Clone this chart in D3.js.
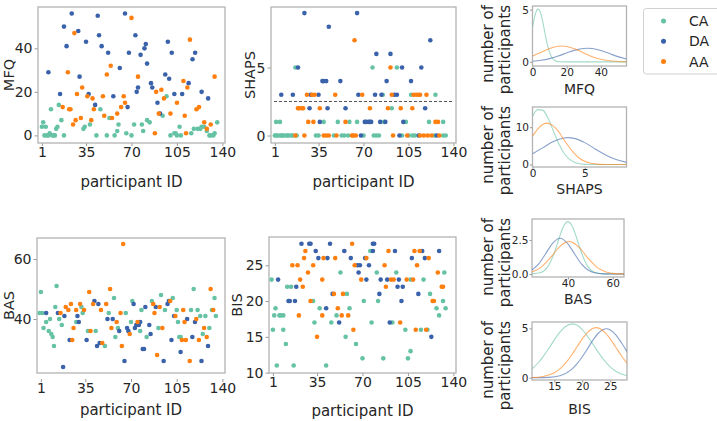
<!DOCTYPE html>
<html><head><meta charset="utf-8">
<script src="https://cdn.jsdelivr.net/npm/d3@7"></script>
<style>
body{margin:0;background:#fff;}
svg{display:block;font-family:"DejaVu Sans",sans-serif;}
</style></head><body>
<svg id="c" width="717" height="421"></svg>
<script>
// ---------------- DATA ----------------
const groups = ["CA", "DA", "AA"];
const groupColors = ["#66c2a5", "#3a62aa", "#ff7f0e"];
const idTicks = [1, 35, 70, 105, 140];
const idTickLabels = ["1", "35", "70", "105", "140"];

// scatter data: [participant ID, score]
const mfqCA = [[1,4],[2,6],[3,0],[4,4],[5,0],[6,0],[7,1],[8,12],[9,0],[10,0],[11,0],[12,3],[13,4],[14,14],[16,7],[18,0],[33,3],[34,4],[38,5],[43,0],[46,12],[51,0],[53,8],[57,0],[59,2],[60,5],[66,1],[70,0],[72,5],[78,5],[79,2],[82,7],[84,6],[94,9],[97,18],[100,0],[103,1],[104,1],[105,0],[107,4],[108,0],[116,1],[118,3],[121,3],[123,3],[124,4],[126,4],[128,2],[130,0],[131,0],[133,0],[134,1],[136,6]];
const mfqDA = [[6,29],[15,19],[18,50],[20,41],[24,56],[29,48],[30,27],[35,43],[37,19],[42,14],[44,55],[45,46],[47,41],[52,38],[56,18],[61,31],[65,56],[67,13],[68,38],[73,46],[74,20],[75,22],[77,37],[80,40],[81,42],[82,33],[85,24],[86,22],[90,15],[92,10],[96,28],[98,43],[99,26],[101,38],[103,19],[109,19],[114,24],[117,35],[119,38],[124,20],[129,17]];
const mfqAA = [[17,13],[21,29],[22,12],[23,12],[25,5],[26,47],[27,7],[28,19],[31,8],[32,22],[36,18],[39,7],[40,17],[41,12],[48,18],[49,9],[51,28],[54,32],[55,8],[59,10],[62,13],[64,18],[65,15],[70,54],[75,27],[88,1],[89,20],[91,10],[93,21],[95,17],[100,10],[105,15],[110,25],[111,9],[112,1],[113,22],[115,44],[120,12],[122,13],[126,6],[128,3],[131,5],[134,27]];

const shapsCA = [[1,0],[2,0],[3,0],[5,0],[6,0],[7,0],[8,0],[10,0],[11,0],[12,0],[14,0],[15,0],[2,1],[5,1],[17,5],[18,0],[33,0],[35,0],[39,1],[47,0],[50,1],[53,0],[55,0],[58,0],[59,1],[65,1],[70,0],[77,5],[78,0],[80,0],[82,0],[85,3],[86,1],[92,2],[96,5],[100,0],[103,1],[105,0],[107,3],[108,0],[110,0],[121,1],[125,0],[126,3],[132,1],[132,0],[134,0]];
const shapsDA = [[6,3],[15,3],[19,5],[24,9],[28,2],[29,3],[35,3],[36,1],[38,4],[39,4],[41,4],[42,2],[43,8],[52,4],[56,2],[65,9],[66,3],[68,0],[71,1],[72,1],[74,1],[75,1],[76,1],[79,3],[80,6],[83,1],[84,3],[87,1],[88,4],[91,6],[94,3],[96,3],[98,0],[100,5],[101,1],[107,4],[113,0],[115,5],[118,2],[122,7],[127,0]];
const shapsAA = [[17,0],[19,2],[20,2],[22,2],[23,2],[24,0],[26,3],[27,1],[30,3],[31,1],[32,3],[36,2],[39,0],[41,0],[43,0],[48,3],[49,0],[56,1],[61,0],[62,0],[63,7],[64,0],[69,3],[75,2],[89,2],[91,5],[92,3],[93,0],[99,2],[104,0],[108,2],[109,3],[111,3],[113,3],[114,3],[114,0],[117,0],[119,3],[120,0],[123,0],[126,1],[128,1],[129,0]];
const shapsCutoff = 2.5;

const basCA = [[1,49],[0,42],[2,42],[3,37],[5,39],[7,36],[8,40],[9,35],[10,34],[11,31],[12,44],[13,51],[15,40],[17,38],[28,39],[32,44],[33,42],[37,36],[43,36],[50,31],[53,42],[57,47],[58,34],[60,37],[66,42],[70,39],[71,46],[77,36],[78,43],[82,34],[86,46],[91,37],[93,48],[96,43],[102,47],[105,43],[106,39],[107,34],[108,34],[116,43],[118,50],[121,43],[123,41],[125,35],[127,41],[130,37],[132,43],[134,47],[135,41]];
const basDA = [[5,42],[14,42],[18,24],[19,41],[23,33],[29,41],[30,39],[36,33],[42,46],[44,31],[45,45],[46,32],[52,40],[56,40],[61,36],[65,26],[67,37],[68,36],[72,45],[73,37],[74,38],[76,38],[77,39],[79,30],[80,30],[81,44],[84,38],[85,35],[89,44],[95,26],[98,45],[99,46],[101,33],[103,41],[108,29],[113,40],[117,34],[119,39],[124,26],[129,31]];
const basAA = [[16,42],[20,44],[22,43],[24,45],[25,33],[26,37],[28,43],[31,45],[34,43],[38,49],[39,36],[41,45],[47,43],[48,32],[51,45],[54,50],[55,37],[59,39],[62,42],[63,31],[64,65],[69,35],[75,39],[87,45],[88,42],[90,28],[92,44],[94,37],[100,46],[104,41],[109,33],[110,43],[111,39],[112,33],[115,26],[120,40],[122,33],[126,37],[128,34],[131,50],[133,43]];

const bisCA = [[0,23],[1,16],[2,18],[3,19],[4,11],[6,18],[7,18],[9,18],[9,16],[11,14],[12,22],[15,22],[17,11],[32,20],[33,17],[37,19],[42,11],[46,17],[50,18],[53,24],[57,15],[58,21],[60,19],[65,14],[70,12],[71,20],[76,27],[77,17],[81,24],[82,20],[86,12],[93,17],[96,24],[103,16],[105,12],[107,23],[107,13],[115,16],[117,23],[120,16],[122,21],[127,19],[129,18],[132,20],[133,24],[134,19]];
const bisDA = [[5,23],[13,20],[14,20],[18,20],[19,22],[23,28],[29,28],[30,28],[34,27],[36,26],[42,19],[43,26],[45,28],[47,21],[52,17],[56,27],[61,26],[66,25],[67,24],[68,25],[72,26],[73,23],[75,25],[78,27],[78,28],[79,28],[83,21],[84,23],[89,23],[91,17],[95,27],[97,22],[98,23],[100,20],[101,22],[108,26],[113,21],[116,27],[118,26],[123,15],[129,27]];
const bisAA = [[16,25],[20,25],[21,18],[22,23],[24,22],[25,26],[26,27],[28,24],[30,20],[32,25],[35,15],[39,18],[39,23],[40,26],[48,21],[49,26],[51,19],[54,18],[55,21],[59,18],[62,28],[63,16],[64,25],[69,23],[73,26],[87,25],[88,22],[90,27],[92,23],[94,23],[99,17],[104,23],[109,23],[110,27],[111,16],[112,25],[114,27],[119,16],[121,26],[124,20],[125,20],[128,24],[131,22],[132,22]];

// distribution curves: [score, number of participants]
const mfqDistCA = [[0,3.33],[1,4.13],[2,4.75],[3,5.05],[4,4.97],[5,4.53],[6,3.83],[7,2.99],[8,2.16],[9,1.45],[10,0.9],[11,0.51],[12,0.27],[13,0.13],[14,0.06],[16,0.01],[20,0],[55,0]];
const mfqDistDA = [[0,0.06],[5,0.15],[10,0.31],[15,0.55],[20,0.85],[25,1.12],[30,1.28],[32,1.3],[35,1.27],[40,1.08],[45,0.79],[50,0.5],[55,0.27]];
const mfqDistAA = [[0,0.56],[5,0.92],[10,1.28],[15,1.5],[17,1.52],[20,1.47],[25,1.22],[30,0.85],[35,0.49],[40,0.24],[45,0.1],[50,0.035],[55,0.01]];

const shapsDistCA = [[0,12.9],[0.5,14.7],[1,14.5],[1.5,12.3],[2,9.0],[2.5,5.7],[3,3.1],[3.5,1.5],[4,0.6],[4.5,0.2],[5,0.06],[6,0],[9,0]];
const shapsDistDA = [[0,2.86],[1,4.54],[2,6.16],[3,7.1],[3.4,7.2],[4,7.0],[5,5.87],[6,4.19],[7,2.55],[8,1.33],[9,0.59]];
const shapsDistAA = [[0,7.6],[0.5,9.5],[1,10.8],[1.4,11.1],[2,10.3],[2.5,8.8],[3,6.7],[3.5,4.7],[4,3.0],[4.5,1.7],[5,0.88],[5.5,0.42],[6,0.18],[7,0.03],[9,0]];

const basDistCA = [[24,0.01],[28,0.11],[31,0.52],[34,1.58],[36,2.59],[38,3.49],[40,3.85],[42,3.49],[44,2.59],[46,1.58],[49,0.52],[52,0.11],[56,0.01],[65,0]];
const basDistDA = [[24,0.3],[27,0.75],[30,1.47],[33,2.22],[36.5,2.63],[40,2.22],[43,1.47],[46,0.75],[49,0.3],[52,0.09],[56,0.01],[65,0]];
const basDistAA = [[24,0.15],[28,0.49],[32,1.15],[36,1.96],[40.5,2.4],[45,1.96],[49,1.15],[53,0.49],[57,0.15],[61,0.03],[65,0.01]];

const bisDistCA = [[11,0.91],[12,1.44],[13,2.14],[14,2.96],[15,3.83],[16,4.61],[17,5.18],[18.2,5.45],[19,5.33],[20,4.87],[21,4.15],[22,3.31],[23,2.46],[24,1.7],[25,1.1],[26,0.66],[27,0.37],[28,0.2]];
const bisDistDA = [[11,0],[14,0.04],[16,0.21],[18,0.8],[19,1.37],[20,2.12],[21,3.0],[22,3.88],[23,4.58],[24.3,4.95],[25,4.84],[26,4.34],[27,3.54],[28,2.64]];
const bisDistAA = [[11,0.02],[13,0.13],[15,0.51],[16,0.9],[17,1.47],[18,2.22],[19,3.08],[20,3.93],[21,4.62],[22.5,5.07],[24,4.62],[25,3.93],[26,3.08],[27,2.22],[28,1.47]];

// ---------------- DRAWING ----------------
const svg = d3.select("#c");
const textColor = "#262626";
const spineColor = "#b3b3b3";
const tickColor = "#999";

function styleAxis(sel, fs) {
  sel.select(".domain").remove();
  sel.selectAll(".tick line").attr("stroke", tickColor);
  sel.selectAll(".tick text").attr("fill", textColor).style("font-size", fs + "px").style("font-family", '"DejaVu Sans", sans-serif');
}

function frame(g, b) {
  g.append("rect").attr("x", b.x0).attr("y", b.y0).attr("width", b.x1 - b.x0).attr("height", b.y1 - b.y0)
    .attr("fill", "none").attr("stroke", spineColor).attr("stroke-width", 1.3);
}

function scatterPanel(cfg) {
  const b = cfg.box;
  const x = d3.scaleLinear().domain([-2, 142]).range([b.x0, b.x1]);
  const y = d3.scaleLinear().domain(cfg.yDomain).range([b.y1, b.y0]);
  const g = svg.append("g");
  const xa = g.append("g").attr("transform", `translate(0,${b.y1 + cfg.xAxisOffset})`)
    .call(d3.axisBottom(x).tickValues(idTicks).tickFormat((d, i) => idTickLabels[i]).tickSize(3).tickPadding(1.5));
  styleAxis(xa, 14);
  const ya = g.append("g").attr("transform", `translate(${b.x0},0)`)
    .call(d3.axisLeft(y).tickValues(cfg.yTicks).tickSize(3.5).tickPadding(2));
  styleAxis(ya, 14);
  frame(g, b);
  if (cfg.cutoff !== undefined) {
    g.append("line").attr("x1", b.x0 + 3).attr("x2", b.x1 - 2).attr("y1", y(cfg.cutoff)).attr("y2", y(cfg.cutoff))
      .attr("stroke", "#555").attr("stroke-width", 1.2).attr("stroke-dasharray", "3,2");
  }
  cfg.series.forEach((pts, gi) => {
    g.append("g").selectAll("circle").data(pts).join("circle")
      .attr("cx", d => x(d[0])).attr("cy", d => y(d[1])).attr("r", 2.3)
      .attr("fill", groupColors[gi]);
  });
  g.append("text").attr("transform", `translate(${cfg.ylabelX},${(b.y0 + b.y1) / 2}) rotate(-90)`)
    .attr("text-anchor", "middle").attr("dominant-baseline", "central")
    .attr("fill", textColor).style("font-size", "14.5px").text(cfg.ylabel);
  g.append("text").attr("x", (b.x0 + b.x1) / 2).attr("y", cfg.xlabelY)
    .attr("text-anchor", "middle").attr("dominant-baseline", "central")
    .attr("fill", textColor).style("font-size", "15px").text("participant ID");
}

let clipN = 0;
function distPanel(cfg) {
  const b = cfg.box;
  const x = d3.scaleLinear().domain(cfg.xDomain).range([b.x0, b.x1]);
  const y = d3.scaleLinear().domain(cfg.yDomain).range([b.y1, b.y0]);
  const g = svg.append("g");
  const id = "clip" + (clipN++);
  g.append("clipPath").attr("id", id).append("rect")
    .attr("x", b.x0).attr("y", b.y0).attr("width", b.x1 - b.x0).attr("height", b.y1 - b.y0);
  const xa = g.append("g").attr("transform", `translate(0,${b.y1})`)
    .call(d3.axisBottom(x).tickValues(cfg.xTicks).tickSize(2.5).tickPadding(0.5));
  styleAxis(xa, 10.5);
  const ya = g.append("g").attr("transform", `translate(${b.x0},0)`)
    .call(d3.axisLeft(y).tickValues(cfg.yTicks).tickFormat(cfg.yFmt).tickSize(2.5).tickPadding(1));
  styleAxis(ya, 10.5);
  frame(g, b);
  const line = d3.line().x(d => x(d[0])).y(d => y(d[1])).curve(d3.curveMonotoneX);
  cfg.series.forEach((pts, gi) => {
    g.append("path").attr("d", line(pts)).attr("fill", "none")
      .attr("stroke", groupColors[gi]).attr("stroke-opacity", 0.6).attr("stroke-width", 1.1)
      .attr("clip-path", `url(#${id})`);
  });
  const lab = g.append("text").attr("fill", textColor).style("font-size", "15px")
    .attr("text-anchor", "end").attr("dominant-baseline", "central")
    .attr("transform", `translate(488,${b.y0 - 1}) rotate(-90)`);
  lab.append("tspan").attr("x", 0).attr("y", 0).text("number of");
  lab.append("tspan").attr("x", 0).attr("y", 17).text("participants");
  g.append("text").attr("x", (b.x0 + b.x1) / 2).attr("y", cfg.xlabelY)
    .attr("text-anchor", "middle").attr("dominant-baseline", "central")
    .attr("fill", textColor).style("font-size", "14px").text(cfg.xlabel);
}

scatterPanel({box: {x0: 38, x1: 225, y0: 7, y1: 143}, yDomain: [-3.5, 59], yTicks: [0, 20, 40],
  ylabel: "MFQ", ylabelX: 8.5, xlabelY: 182, xAxisOffset: 0, series: [mfqCA, mfqDA, mfqAA]});
scatterPanel({box: {x0: 271, x1: 456, y0: 7, y1: 143}, yDomain: [-0.55, 9.45], yTicks: [0, 5],
  ylabel: "SHAPS", ylabelX: 250, xlabelY: 182, xAxisOffset: 0, cutoff: shapsCutoff, series: [shapsCA, shapsDA, shapsAA]});
scatterPanel({box: {x0: 37, x1: 225, y0: 238, y1: 373}, yDomain: [22, 67], yTicks: [40, 60],
  ylabel: "BAS", ylabelX: 8.5, xlabelY: 410, xAxisOffset: 6, series: [basCA, basDA, basAA]});
scatterPanel({box: {x0: 269, x1: 456, y0: 237, y1: 373}, yDomain: [9.95, 28.95], yTicks: [10, 15, 20, 25],
  ylabel: "BIS", ylabelX: 237, xlabelY: 411, xAxisOffset: 0, series: [bisCA, bisDA, bisAA]});

distPanel({box: {x0: 532.5, x1: 626.5, y0: 6, y1: 66}, xDomain: [0, 55], yDomain: [-0.4, 5.35], xTicks: [0, 20, 40], yTicks: [0, 5],
  yFmt: d3.format("d"), xlabel: "MFQ", xlabelY: 89, series: [mfqDistCA, mfqDistDA, mfqDistAA]});
distPanel({box: {x0: 532.5, x1: 626.5, y0: 107, y1: 167}, xDomain: [0, 9], yDomain: [-0.65, 15.4], xTicks: [0, 5], yTicks: [0, 10],
  yFmt: d3.format("d"), xlabel: "SHAPS", xlabelY: 189, series: [shapsDistCA, shapsDistDA, shapsDistAA]});
distPanel({box: {x0: 532, x1: 624, y0: 219, y1: 277}, xDomain: [24, 65], yDomain: [-0.22, 4.04], xTicks: [40, 60], yTicks: [0, 2.5],
  yFmt: d3.format(".1f"), xlabel: "BAS", xlabelY: 299, series: [basDistCA, basDistDA, basDistAA]});
distPanel({box: {x0: 532, x1: 627, y0: 322, y1: 380}, xDomain: [11, 28], yDomain: [-0.23, 5.64], xTicks: [15, 20, 25], yTicks: [0, 5],
  yFmt: d3.format("d"), xlabel: "BIS", xlabelY: 409, series: [bisDistCA, bisDistDA, bisDistAA]});

// legend
const leg = svg.append("g");
leg.append("rect").attr("x", 643.5).attr("y", 8.5).attr("width", 85).attr("height", 65.5).attr("rx", 3)
  .attr("fill", "#fff").attr("stroke", "#d0d0d0").attr("stroke-width", 1);
groups.forEach((gname, i) => {
  const yy = 21 + i * 20.3;
  leg.append("circle").attr("cx", 663.5).attr("cy", yy).attr("r", 2.5).attr("fill", groupColors[i]);
  leg.append("text").attr("x", 689).attr("y", yy).attr("dominant-baseline", "central")
    .attr("fill", textColor).style("font-size", "14px").text(gname);
});
</script>
</body></html>
